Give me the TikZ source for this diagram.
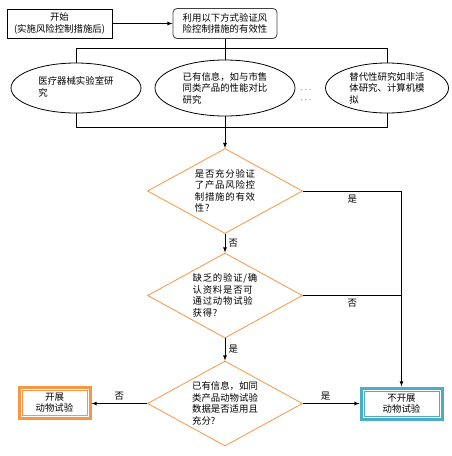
\documentclass[tikz,border=0pt]{standalone}
\usepackage{fontspec}
\setmainfont{Noto Sans CJK SC}
\newfontfamily\widecjk[LetterSpace=8]{Noto Sans CJK SC}
\usetikzlibrary{arrows,shapes.geometric}
\definecolor{deco}{HTML}{F79646}
\definecolor{aqua}{HTML}{4BACC6}
\newcommand\basefont{\fontsize{9.4}{11.5}\selectfont}

\tikzset{
  box/.style={draw, line width=0.8pt, inner sep=0pt, align=center},
  oval/.style={draw, ellipse, line width=0.8pt, inner sep=0pt, align=left},
  test/.style={draw=deco, diamond, aspect=1.8, line width=0.8pt, inner sep=0pt,
    minimum width=155pt, minimum height=85pt, align=left},
  outcome/.style={draw=#1, line width=0.8pt, inner sep=0pt, outer sep=4.5pt,
    minimum height=25pt, align=center},
  frame/.style={draw=#1, line width=3pt},
}

\begin{document}
\begin{tikzpicture}[x=1pt, y=-1pt, font=\basefont, >=latex, line width=0.8pt]
\useasboundingbox (0,0) rectangle (452,456);

\node (start) at (59.5,23.5) [box, minimum width=105pt, minimum height=29pt] {开始\\(实施风险控制措施后)};
\node (eff) at (225,23.5) [box, draw=black!75, rounded corners=4pt, minimum width=104pt, minimum height=30pt, align=left] {利用以下方式验证风\\险控制措施的有效性};

\node (e1) at (76,88) [oval, minimum width=130pt, minimum height=50pt] {\\[-6pt]医疗器械实验室研\\究};
\node (e2) at (225,88) [oval, minimum width=140pt, minimum height=56pt] {已有信息，如与市售\\同类产品的性能对比\\研究};
\node (dots) at (306,95) [align=center, inner sep=0pt, font=\fontsize{9.4}{10}\selectfont] {$\cdots$\\$\cdots$};
\node (e3) at (387,88) [oval, minimum width=123pt, minimum height=50pt] {替代性研究如非活\\体研究、计算机模\\拟};

\coordinate (tl) at (76,48);
\coordinate (tr) at (387,48);
\coordinate (bl) at (76,127);
\coordinate (br) at (387,127);

\node (d1) at (225,191) [test, font=\widecjk\basefont] {是否充分验证\\了产品风险控\\制措施的有效\\性?};
\node (d2) at (225,295.5) [test, font=\widecjk\basefont] {缺乏的验证/确\\认资料是否可\\通过动物试验\\获得?};
\node (d3) at (225,403.5) [test] {已有信息，如同\\类产品动物试验\\数据是否适用且\\充分?};

\node (yes) at (54.5,402.5) [outcome=deco, minimum width=65pt] {开展\\动物试验};
\node (no) at (401.5,403.5) [outcome=aqua, minimum width=75pt] {不开展\\动物试验};
\draw [frame=deco] ([shift={(1.5pt,1.5pt)}]yes.south west) rectangle ([shift={(-1.5pt,-1.5pt)}]yes.north east);
\draw [frame=aqua] ([shift={(1.5pt,1.5pt)}]no.south west) rectangle ([shift={(-1.5pt,-1.5pt)}]no.north east);

\draw [->] (start) -- (eff);
\draw (eff) -- (eff |- tl);
\draw (tl) -- (tr);
\draw (tl) -- (e1);
\draw (e2) -- (e2 |- tl);
\draw (tr) -- (e3);
\draw (e1) -- (bl) -- (br) -- (e3);
\draw [->] (e2) -- (d1);

\draw [->] (d1) -- (d2) node[midway, right] {否};
\draw [->] (d2) -- (d3) node[midway, right] {是};
\draw [->] (d1.east) -| (no.north) node[pos=0.25, below] {是};
\draw (d2.east) -- (d2.east -| no.north) node[midway, below] {否};
\draw [->] (d3.west) -- (d3.west -| yes.east) node[midway, above] {否};
\draw [->] (d3.east) -- (d3.east -| no.west) node[pos=0.4, above] {是};
\end{tikzpicture}
\end{document}
